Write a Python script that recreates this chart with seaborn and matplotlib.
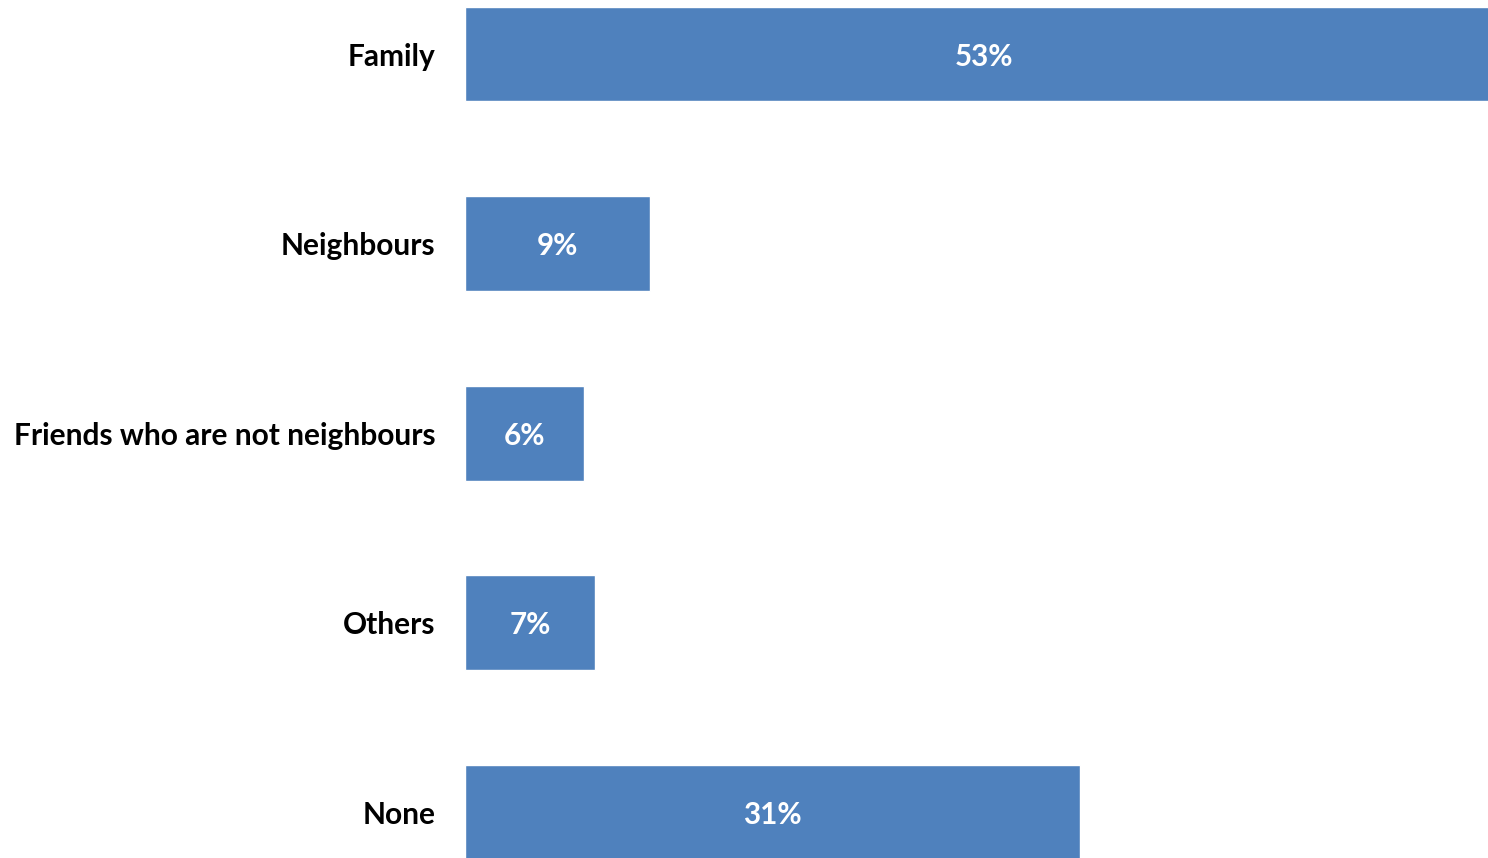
import matplotlib
matplotlib.use("Agg")
import matplotlib.pyplot as plt
import seaborn as sns
import pandas as pd

categories = ["Family", "Neighbours", "Friends who are not neighbours", "Others", "None"]
values = [53.0, 9.45, 6.05, 6.65, 31.4]
value_labels = ["53%", "9%", "6%", "7%", "31%"]

sns.set_theme(style="white")
plt.rcParams["font.family"] = ["Lato", "DejaVu Sans"]

df = pd.DataFrame({"category": categories, "value": values})

W, H = 1488, 858
fig = plt.figure(figsize=(W / 100, H / 100), dpi=100)
left = 465 / W
ax = fig.add_axes([left, 0, 1 - left, 1])

sns.barplot(data=df, x="value", y="category", orient="h", color="#4F81BD",
            saturation=1, width=0.5, ax=ax, order=categories)

ax.set_xlim(0, 52.2)
ax.set_ylim(4.24, -0.285)
ax.set_xlabel("")
ax.set_ylabel("")
ax.set_xticks([])
for s in ax.spines.values():
    s.set_visible(False)
ax.tick_params(axis="y", length=0, pad=21.5)
for lbl in ax.get_yticklabels():
    lbl.set_fontsize(21.5)
    lbl.set_fontweight("bold")
    lbl.set_color("#000000")
    lbl.set_verticalalignment("center_baseline")

for i, (v, t) in enumerate(zip(values, value_labels)):
    ax.text(v / 2, i, t, ha="center", va="center_baseline", color="white",
            fontsize=21.3, fontweight="bold", clip_on=False)

fig.savefig("out.png", dpi=100)
